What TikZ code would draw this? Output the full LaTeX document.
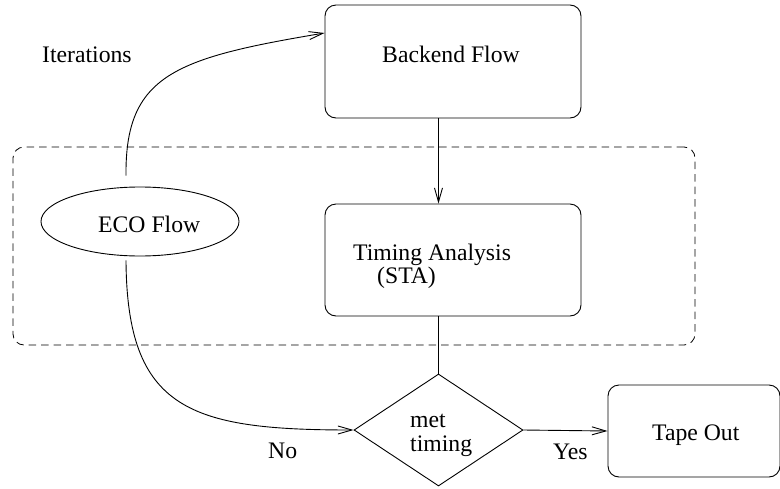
\documentclass[tikz,border=0pt]{standalone}
\usepackage{fontspec}
\setmainfont{Liberation Serif}
\usetikzlibrary{shapes.geometric,arrows.meta}

\tikzset{
  every node/.style={font=\fontsize{23.7}{28}\selectfont},
  stage/.style={draw, rounded corners=11pt, line width=0.9pt, inner sep=0pt},
  txt/.style={anchor=base west, inner sep=0pt},
  wire/.style={line width=0.9pt},
  arr/.style={wire, -{Straight Barb[length=14pt,width=8pt,line width=0.9pt]}},
}

\begin{document}
\begin{tikzpicture}[x=1pt, y=-1pt]
  \useasboundingbox (0,0) rectangle (780,488);

  % dashed frame around the analysis loop
  \node[draw, dashed, dash pattern=on 7.5pt off 5pt, rounded corners=11pt,
        line width=0.8pt, minimum width=682pt, minimum height=198pt]
        (loop) at (354,246) {};

  % process blocks
  \node[stage, minimum width=256pt, minimum height=113pt] (backend) at (453,61.5) {};
  \node[stage, minimum width=256pt, minimum height=112pt] (timing) at (453,260) {};
  \node[stage, minimum width=172pt, minimum height=92pt] (tape) at (694,431) {};
  \node[draw, ellipse, line width=0.9pt, inner sep=0pt,
        minimum width=198pt, minimum height=69pt] (eco) at (140,221.5) {};
  \node[draw, diamond, line width=0.9pt, inner sep=0pt,
        minimum width=169pt, minimum height=112pt] (dec) at (438.5,430) {};

  % texts
  \node[txt] (tBackend) at (382,62) {Backend Flow};
  \node[txt] (tTiming) at (353,260) {Timing Analysis};
  \node[txt] (tSta) at (377,283) {(STA)};
  \node[txt] (tEco) at (98,232) {ECO Flow};
  \node[txt] (tMet) at (410,427) {met};
  \node[txt] (tTimingQ) at (410,451) {timing};
  \node[txt] (tTape) at (652,440) {Tape Out};
  \node[txt] (tIter) at (42,62) {Iterations};
  \node[txt] (tNo) at (268,458) {No};
  \node[txt] (tYes) at (553,459) {Yes};

  % connectors
  \coordinate (ecoTop) at ([xshift=-14pt,yshift=11pt]eco.north);
  \coordinate (ecoBot) at ([xshift=-14pt,yshift=-4pt]eco.south);
  \coordinate (backIn) at ([yshift=28.5pt]backend.west);

  \draw[arr] (backend.south -| dec.north) -- (timing.north -| dec.north);
  \draw[wire] (timing.south -| dec.north) -- (dec.north);
  \draw[arr] (dec.east) -- (tape.west);
  \draw[arr] (ecoTop) .. controls (125,75) and (175,58) .. (backIn);
  \draw[arr] (ecoBot) .. controls (127,410) and (190,430) .. (dec.west);
\end{tikzpicture}
\end{document}
